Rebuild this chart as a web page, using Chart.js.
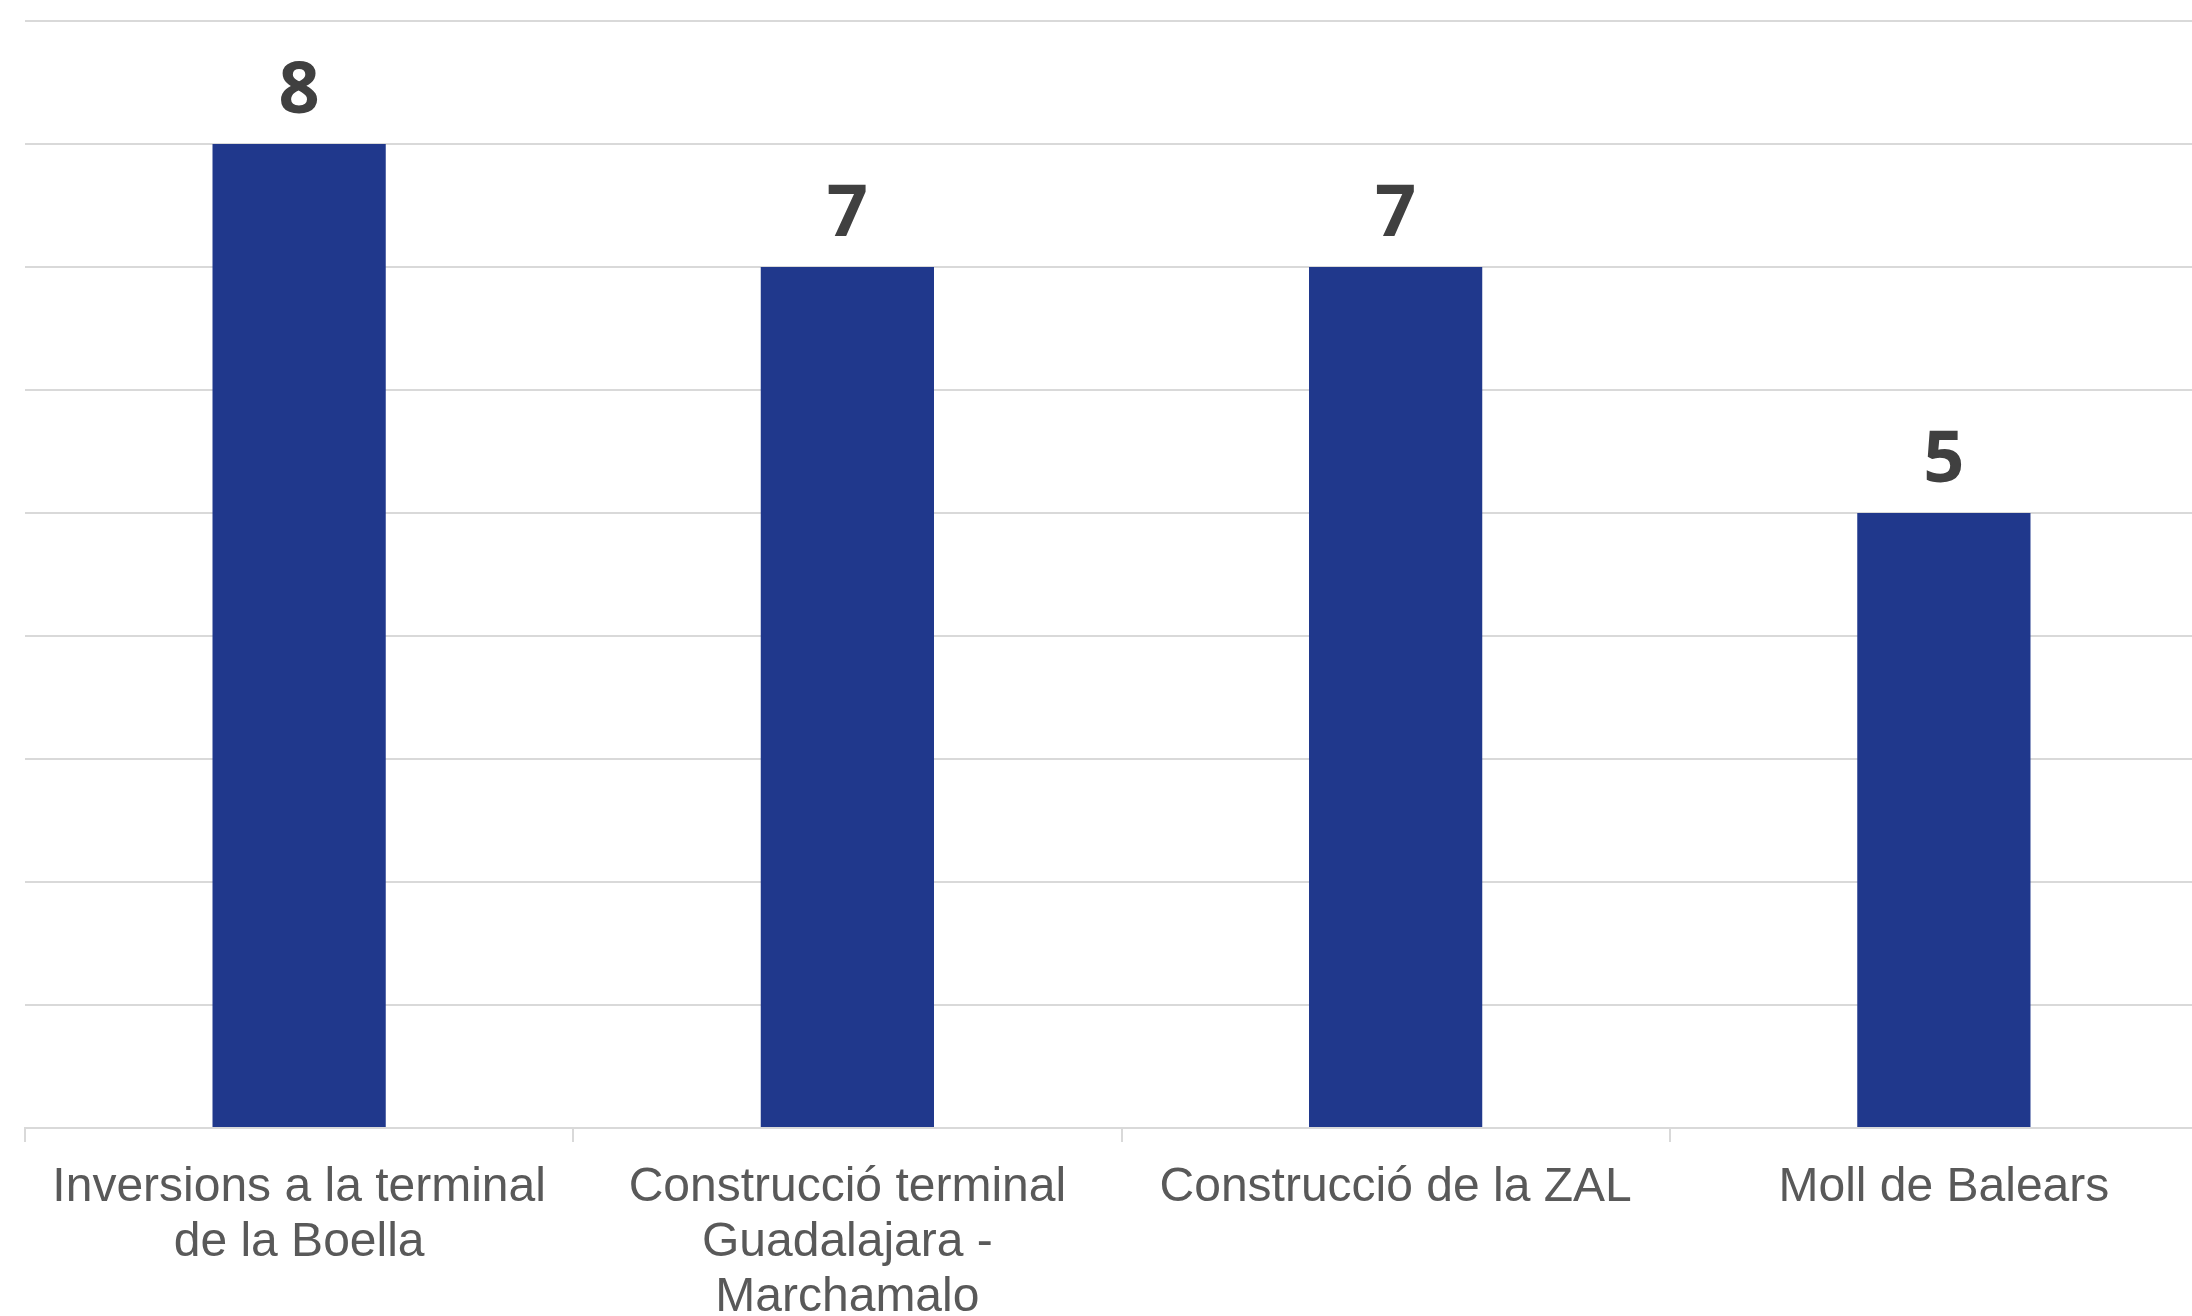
<!DOCTYPE html>
<html>
<head>
<meta charset="utf-8">
<script src="https://cdn.jsdelivr.net/npm/chart.js@4/dist/chart.umd.min.js"></script>
<style>
  html, body { margin: 0; padding: 0; background: #fff; overflow: hidden; }
  #wrap { width: 2218px; height: 1316px; position: relative; }
</style>
</head>
<body>
<div id="wrap"><canvas id="myBarChart"></canvas></div>
<script>
const categories = [
  ['Inversions a la terminal', 'de la Boella'],
  ['Construcció terminal', 'Guadalajara -', 'Marchamalo'],
  ['Construcció de la ZAL'],
  ['Moll de Balears']
];
const valors = [8, 7, 7, 5];
const yMax = 9;

// etiquetes de valor sobre cada barra
const valueLabels = {
  id: 'valueLabels',
  afterDatasetsDraw(chart) {
    const ctx = chart.ctx;
    const meta = chart.getDatasetMeta(0);
    ctx.save();
    ctx.font = 'bold 72px "Open Sans", sans-serif';
    ctx.fillStyle = '#404040';
    ctx.textAlign = 'center';
    ctx.textBaseline = 'alphabetic';
    meta.data.forEach((bar, i) => {
      ctx.fillText(String(valors[i]), bar.x, bar.y - 31);
    });
    ctx.restore();
  }
};

function createChart() {
  const ctx = document.getElementById('myBarChart').getContext('2d');
  new Chart(ctx, {
    type: 'bar',
    data: {
      labels: categories,
      datasets: [{
        data: valors,
        backgroundColor: '#20388C',
        borderWidth: 0,
        categoryPercentage: 1,
        barPercentage: 0.316
      }]
    },
    options: {
      responsive: true,
      maintainAspectRatio: false,
      animation: false,
      layout: { padding: { left: 25, top: 21, right: 0, bottom: 0 } },
      scales: {
        x: {
          afterFit(scale) { scale.height = 188; },
          grid: {
            offset: true,
            drawOnChartArea: false,
            drawTicks: true,
            tickLength: 14,
            color: '#d9d9d9',
            lineWidth: 2
          },
          border: { color: '#d9d9d9', width: 2 },
          ticks: {
            color: '#595959',
            padding: 18,
            maxRotation: 0,
            autoSkip: false,
            font: { family: '"Liberation Sans", Arial, sans-serif', size: 48, lineHeight: 1.15 }
          }
        },
        y: {
          min: 0,
          max: yMax,
          ticks: { display: false, stepSize: 1 },
          border: { display: false },
          grid: { color: '#d9d9d9', lineWidth: 2, drawTicks: false }
        }
      },
      plugins: {
        legend: { display: false },
        tooltip: { enabled: false }
      }
    },
    plugins: [valueLabels]
  });
}

window.onload = createChart;
</script>
</body>
</html>
